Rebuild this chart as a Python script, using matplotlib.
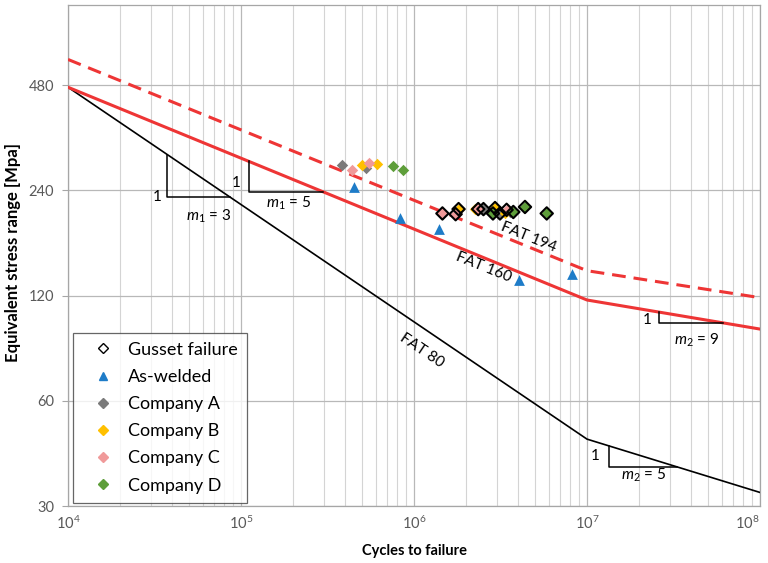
import numpy as np
import matplotlib
matplotlib.use("Agg")
import matplotlib.pyplot as plt
from matplotlib.lines import Line2D
from matplotlib.ticker import FixedLocator, LogLocator, NullFormatter

plt.rcParams['font.family'] = ['Lato', 'DejaVu Sans']
plt.rcParams['mathtext.fontset'] = 'custom'
plt.rcParams['mathtext.it'] = 'Lato:italic'
plt.rcParams['mathtext.rm'] = 'Lato'

# design curves (cycles, stress range)
curve_x = [1e4, 1e7, 1e8]
fat80 = [473, 46.6, 32.8]
fat160 = [473, 116.5, 96.2]
fat194 = [568, 141.3, 118.3]

# test results
welded_x = [4.5e5, 8.3e5, 1.4e6, 4.06e6, 8.22e6]
welded_y = [246, 200, 186, 133, 138]

compA_x = [3.82e5, 5.28e5, 2.52e6, 3.14e6, 3.59e6]
compA_y = [283, 277, 212, 206, 208]
compB_x = [4.99e5, 6.13e5, 1.81e6, 2.25e6, 2.94e6, 3.36e6]
compB_y = [283, 285, 212, 212.5, 213.5, 206.5]
compC_x = [4.38e5, 5.50e5, 1.46e6, 1.74e6, 2.35e6, 3.43e6]
compC_y = [275, 287, 206, 205, 212, 211]
compD_x = [7.59e5, 8.6e5, 2.86e6, 3.75e6, 4.38e6, 5.85e6]
compD_y = [282, 275, 206, 208, 215, 206]

gusset_x = [1.46e6, 1.74e6, 1.81e6, 2.35e6, 2.52e6, 2.86e6, 2.94e6, 3.14e6,
            3.43e6, 3.75e6, 4.38e6, 5.85e6]
gusset_y = [206, 205, 212, 212, 212, 206, 213.5, 206, 211, 208, 215, 206]

x_ticks = [1e4, 1e5, 1e6, 1e7, 1e8]
y_ticks = [30, 60, 120, 240, 480]

red = '#EE3535'


def line_y(xs, ys, x):
    return np.exp(np.interp(np.log(x), np.log(xs), np.log(ys)))


fig = plt.figure(figsize=(7.68, 5.63), dpi=100)
ax = fig.add_axes([68 / 768, 1 - 506 / 563, 692 / 768, 501 / 563])
ax.set_xscale('log')
ax.set_yscale('log')
ax.set_xlim(1e4, 1e8)
ax.set_ylim(30, 813)

ax.yaxis.set_major_locator(FixedLocator(y_ticks))
ax.yaxis.set_minor_locator(FixedLocator([]))
ax.set_yticklabels([str(t) for t in y_ticks])
ax.xaxis.set_major_locator(FixedLocator(x_ticks))
ax.set_xticklabels([r'$10^{%d}$' % int(np.log10(t)) for t in x_ticks])
ax.xaxis.set_minor_locator(LogLocator(base=10, subs=np.arange(2, 10), numticks=20))
ax.xaxis.set_minor_formatter(NullFormatter())
ax.xaxis.get_major_ticks()[-1].label1.set_horizontalalignment('right')

ax.grid(True, which='major', axis='both', color='#b8b8b8', lw=0.9)
ax.grid(True, which='minor', axis='x', color='#d4d4d4', lw=0.8)
ax.set_axisbelow(True)
for s in ax.spines.values():
    s.set_color('#a6a6a6')
    s.set_linewidth(0.9)
ax.tick_params(axis='both', which='both', length=0)
ax.tick_params(axis='both', which='major', labelsize=10.5, labelcolor='#595959', pad=6)
ax.tick_params(axis='y', which='major', length=4, color='#a6a6a6', direction='out')

ax.plot(curve_x, fat80, color='black', lw=1.2, zorder=3)
ax.plot(curve_x, fat160, color=red, lw=2.2, zorder=3)
ax.plot(curve_x, fat194, color=red, lw=2.2, ls=(0, (4.5, 2.6)), zorder=3)

mk = dict(marker='D', s=34, lw=0, zorder=4)
ax.scatter(compA_x, compA_y, color='#7a7a7a', **mk)
ax.scatter(compB_x, compB_y, color='#FFC000', **mk)
ax.scatter(compC_x, compC_y, color='#F09A9A', **mk)
ax.scatter(compD_x, compD_y, color='#5E9E3A', **mk)
ax.scatter(gusset_x, gusset_y, marker='D', s=40, facecolors='none',
           edgecolors='black', linewidths=1.5, zorder=5)
ax.scatter(welded_x, welded_y, marker='^', s=60, color='#1E7CC8', lw=0, zorder=4)


def slope_triangle(ys, x1, x2):
    ya = line_y(curve_x, ys, x1)
    yb = line_y(curve_x, ys, x2)
    ax.plot([x1, x1, x2], [ya, yb, yb], color='black', lw=1.1, zorder=3)


slope_triangle(fat80, 3.75e4, 8.69e4)
slope_triangle(fat160, 1.11e5, 2.98e5)
slope_triangle(fat160, 2.62e7, 6.09e7)
slope_triangle(fat80, 1.34e7, 3.3e7)

tk = dict(fontsize=11, ha='center', va='center', zorder=6)
ax.text(3.27e4, 229.6, '1', **tk)
ax.text(6.53e4, 202.6, r'$m_1$ = 3', **tk)
ax.text(9.35e4, 252.3, '1', **tk)
ax.text(1.876e5, 220.3, r'$m_1$ = 5', **tk)
ax.text(2.24e7, 101.9, '1', **tk)
ax.text(4.3e7, 89.5, r'$m_2$ = 9', **tk)
ax.text(1.11e7, 41.8, '1', **tk)
ax.text(2.11e7, 36.8, r'$m_2$ = 5', **tk)

ax.text(1.11e6, 83.3, 'FAT 80', rotation=-34, **tk)
ax.text(2.52e6, 144.1, 'FAT 160', rotation=-22, **tk)
ax.text(4.58e6, 176, 'FAT 194', rotation=-22, **tk)

ax.set_xlabel('Cycles to failure', fontsize=10.5, fontweight='bold', labelpad=9)
ax.set_ylabel('Equivalent stress range [Mpa]', fontsize=12, fontweight='bold')
ax.yaxis.set_label_coords(-0.068, 0.505)

handles = [
    Line2D([], [], marker='D', ls='none', mfc='white', mec='black', mew=1.0, ms=5),
    Line2D([], [], marker='^', ls='none', color='#1E7CC8', ms=6),
    Line2D([], [], marker='D', ls='none', color='#7a7a7a', ms=5),
    Line2D([], [], marker='D', ls='none', color='#FFC000', ms=5),
    Line2D([], [], marker='D', ls='none', color='#F09A9A', ms=5),
    Line2D([], [], marker='D', ls='none', color='#5E9E3A', ms=5),
]
labels = ['Gusset failure', 'As-welded', 'Company A', 'Company B', 'Company C', 'Company D']
leg = ax.legend(handles, labels, loc='lower left', bbox_to_anchor=(4.7 / 692, 3.3 / 501),
                fontsize=13, frameon=True, fancybox=False, edgecolor='#404040',
                handlelength=2.4, handletextpad=0.15, labelspacing=0.62,
                borderpad=0.5, borderaxespad=0)
leg.get_frame().set_linewidth(0.9)
leg.set_zorder(7)

fig.savefig('out.png', dpi=100)
